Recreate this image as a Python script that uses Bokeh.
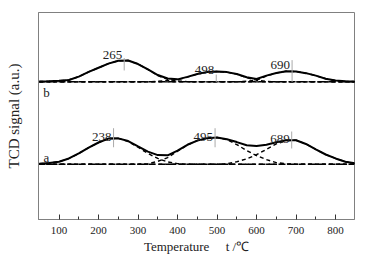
from bokeh.plotting import figure
from bokeh.models import FixedTicker, Range1d
from bokeh.embed import file_html
from bokeh.resources import INLINE
from bokeh.core.properties import value

# Temperature grid (°C) at which the curves were read
temps = list(range(50, 851, 25))

# Sample a (heights above its baseline, a.u.)
curve_a = [0.02, 0.06, 0.12, 0.28, 0.52, 0.80, 1.05, 1.24, 1.25, 1.12, 0.86, 0.61, 0.44,
           0.43, 0.66, 0.94, 1.14, 1.26, 1.29, 1.21, 1.07, 0.92, 0.88, 0.94, 1.06, 1.16,
           1.16, 0.98, 0.72, 0.47, 0.28, 0.12, 0.04]
comp_a1 = [0.02, 0.06, 0.12, 0.28, 0.52, 0.80, 1.05, 1.24, 1.25, 1.10, 0.82, 0.52, 0.28,
           0.11, 0.03, 0.0, 0.0, 0.0, 0.0, 0.0, 0.0, 0.0, 0.0, 0.0, 0.0, 0.0,
           0.0, 0.0, 0.0, 0.0, 0.0, 0.0, 0.0]
comp_a2 = [0.0, 0.0, 0.0, 0.0, 0.0, 0.0, 0.0, 0.0, 0.0, 0.0, 0.0, 0.03, 0.14,
           0.32, 0.63, 0.93, 1.14, 1.26, 1.29, 1.19, 0.95, 0.66, 0.42, 0.22, 0.08, 0.02,
           0.0, 0.0, 0.0, 0.0, 0.0, 0.0, 0.0]
comp_a3 = [0.0, 0.0, 0.0, 0.0, 0.0, 0.0, 0.0, 0.0, 0.0, 0.0, 0.0, 0.0, 0.0,
           0.0, 0.0, 0.0, 0.0, 0.0, 0.0, 0.02, 0.12, 0.26, 0.46, 0.72, 0.98, 1.14,
           1.16, 0.98, 0.72, 0.47, 0.28, 0.12, 0.04]

# Sample b
curve_b = [0.02, 0.03, 0.05, 0.09, 0.25, 0.48, 0.68, 0.88, 1.02, 1.03, 0.86, 0.60, 0.33,
           0.16, 0.12, 0.24, 0.38, 0.48, 0.50, 0.47, 0.38, 0.22, 0.14, 0.30, 0.43, 0.51,
           0.50, 0.42, 0.30, 0.15, 0.06, 0.03, 0.02]
comp_b1 = [0.02, 0.03, 0.05, 0.09, 0.25, 0.48, 0.68, 0.88, 1.02, 1.03, 0.86, 0.60, 0.30,
           0.12, 0.04, 0.01, 0.0, 0.0, 0.0, 0.0, 0.0, 0.0, 0.0, 0.0, 0.0, 0.0,
           0.0, 0.0, 0.0, 0.0, 0.0, 0.0, 0.0]
comp_b2 = [0.0, 0.0, 0.0, 0.0, 0.0, 0.0, 0.0, 0.0, 0.0, 0.0, 0.0, 0.0, 0.03,
           0.06, 0.10, 0.23, 0.37, 0.48, 0.50, 0.47, 0.37, 0.20, 0.08, 0.02, 0.0, 0.0,
           0.0, 0.0, 0.0, 0.0, 0.0, 0.0, 0.0]
comp_b3 = [0.0, 0.0, 0.0, 0.0, 0.0, 0.0, 0.0, 0.0, 0.0, 0.0, 0.0, 0.0, 0.0,
           0.0, 0.0, 0.0, 0.0, 0.0, 0.0, 0.0, 0.0, 0.03, 0.08, 0.28, 0.43, 0.51,
           0.50, 0.42, 0.30, 0.15, 0.06, 0.02, 0.01]

offset_a = 2.67
offset_b = 6.65

# Peak labels
peaks_a = [238, 495, 689]
peaks_b = [265, 498, 690]
peak_label_y_a = [3.99, 3.99, 3.91]
peak_label_y_b = [7.94, 7.21, 7.45]
marker_lo_a = [3.49, 3.49, 3.43]
marker_hi_a = [4.41, 4.41, 4.25]
marker_lo_b = [7.20, 6.65, 6.65]
marker_hi_b = [7.80, 7.00, 7.70]

tick_vals = [100, 200, 300, 400, 500, 600, 700, 800]
minor_vals = [150, 250, 350, 450, 550, 650, 750]

FONT = "Liberation Serif"
FRAME = "#808080"
NB = "\u00a0"

p = figure(width=360, height=257, output_backend="svg", toolbar_location=None,
           x_range=Range1d(48, 848), y_range=Range1d(0, 10),
           min_border_left=38, min_border_right=6, min_border_top=12,
           min_border_bottom=38)
p.xgrid.visible = False
p.ygrid.visible = False
p.outline_line_color = FRAME
p.outline_line_width = 1
p.outline_line_alpha = 1.0

p.xaxis.ticker = FixedTicker(ticks=tick_vals, minor_ticks=minor_vals)
p.xaxis.major_tick_in = 5
p.xaxis.major_tick_out = 0
p.xaxis.minor_tick_in = 3
p.xaxis.minor_tick_out = 0
p.xaxis.axis_line_color = FRAME
p.xaxis.major_tick_line_color = "#333333"
p.xaxis.minor_tick_line_color = "#333333"
p.xaxis.major_label_standoff = 7
p.xaxis.major_label_text_font = FONT
p.xaxis.major_label_text_font_size = "11px"
p.xaxis.major_label_text_color = "#222222"
p.xaxis.axis_label = "Temperature" + NB * 5 + "t" + NB + "/\u2103"
p.xaxis.axis_label_text_font = FONT
p.xaxis.axis_label_text_font_size = "13px"
p.xaxis.axis_label_text_font_style = "normal"
p.xaxis.axis_label_text_color = "#222222"
p.xaxis.axis_label_standoff = 2

p.yaxis.ticker = FixedTicker(ticks=[])
p.yaxis.axis_line_color = FRAME
p.yaxis.axis_label = "TCD signal (a.u.)"
p.yaxis.axis_label_text_font = FONT
p.yaxis.axis_label_text_font_size = "15px"
p.yaxis.axis_label_text_font_style = "normal"
p.yaxis.axis_label_text_color = "#222222"
p.yaxis.axis_label_standoff = 17

def shifted(vals, off):
    return [v + off for v in vals]

# baselines
p.line([48, 848], [offset_a, offset_a], line_color="black", line_width=1.5, line_dash="7 3")
p.line([48, 848], [offset_b, offset_b], line_color="black", line_width=1.5, line_dash="7 3")

for comp, off in ((comp_a1, offset_a), (comp_a2, offset_a), (comp_a3, offset_a),
                  (comp_b1, offset_b), (comp_b2, offset_b), (comp_b3, offset_b)):
    p.line(temps, shifted(comp, off), line_color="black", line_width=1.4, line_dash="4 3")

p.line(temps, shifted(curve_a, offset_a), line_color="black", line_width=2)
p.line(temps, shifted(curve_b, offset_b), line_color="black", line_width=2)

# peak markers
p.segment(x0=peaks_a, y0=marker_lo_a, x1=peaks_a, y1=marker_hi_a, line_color="#aaaaaa", line_width=1)
p.segment(x0=peaks_b, y0=marker_lo_b, x1=peaks_b, y1=marker_hi_b, line_color="#aaaaaa", line_width=1)

p.text(x=peaks_a, y=peak_label_y_a, text=[str(v) for v in peaks_a], text_align="right",
       text_baseline="alphabetic", x_offset=-2, text_font=value(FONT),
       text_font_size="13px", text_color="#222222")
p.text(x=peaks_b, y=peak_label_y_b, text=[str(v) for v in peaks_b], text_align="right",
       text_baseline="alphabetic", x_offset=-2, text_font=value(FONT),
       text_font_size="13px", text_color="#222222")

p.text(x=[68, 68], y=[3.0, 6.12], text=["a", "b"], text_align="center",
       text_baseline="alphabetic", text_font=value(FONT), text_font_size="13px",
       text_color="#222222")

open("out.html", "w").write(file_html(p, INLINE))
